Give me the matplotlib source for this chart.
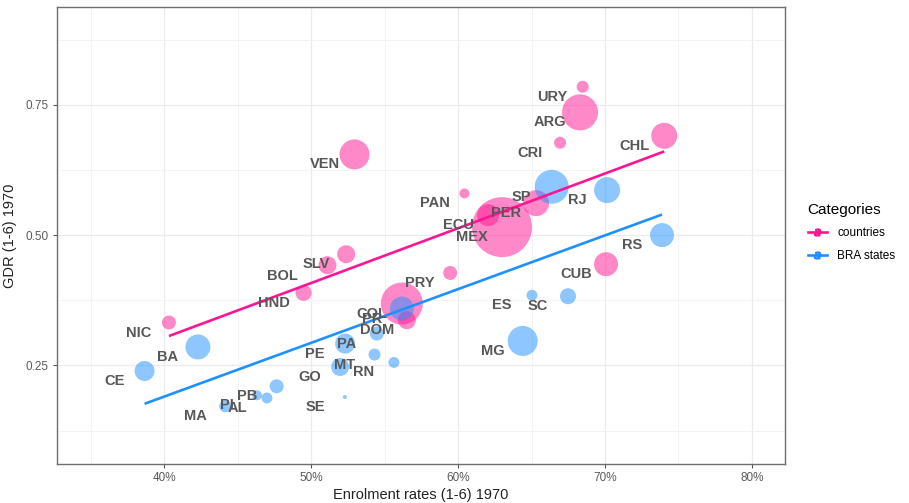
import numpy as np
import matplotlib
matplotlib.use("Agg")
import matplotlib.pyplot as plt
from matplotlib.lines import Line2D
from matplotlib.ticker import FuncFormatter, MultipleLocator

plt.rcParams['font.family'] = ['Liberation Sans', 'DejaVu Sans']

# ---------------- data ----------------
country_names = ["NIC", "HND", "BOL", "SLV", "VEN", "PAN", "ECU", "MEX", "PER",
                 "PRY", "COL", "DOM", "CUB", "CRI", "URY", "ARG", "CHL"]
country_x = [0.4032, 0.4948, 0.5111, 0.5238, 0.5295, 0.6043, 0.6204, 0.6299, 0.6531,
             0.5946, 0.5617, 0.5651, 0.7007, 0.6694, 0.6848, 0.6830, 0.7403]
country_y = [0.3323, 0.3892, 0.4423, 0.4634, 0.6548, 0.5799, 0.5383, 0.5153, 0.5613,
             0.4275, 0.3688, 0.3368, 0.4442, 0.6771, 0.7845, 0.7354, 0.6905]
country_w = [49, 64, 81, 81, 225, 25, 121, 900, 169,
             49, 441, 81, 144, 36, 36, 324, 169]

state_names = ["CE", "BA", "MA", "PI", "AL", "PB", "SE", "GO", "PE", "MT",
               "RN", "PA", "PR", "ES", "SC", "MG", "SP", "RJ", "RS"]
state_x = [0.3866, 0.4229, 0.4415, 0.4631, 0.4699, 0.4765, 0.5229, 0.5197, 0.5231, 0.5431,
           0.5563, 0.5447, 0.5617, 0.6503, 0.6748, 0.6440, 0.6637, 0.7014, 0.7388]
state_y = [0.2394, 0.2855, 0.1717, 0.1928, 0.1876, 0.2101, 0.1894, 0.2471, 0.2920, 0.2709,
           0.2558, 0.3112, 0.3592, 0.3847, 0.3828, 0.2970, 0.5926, 0.5863, 0.5000]
state_w = [100, 156, 36, 25, 30, 49, 4, 81, 100, 36,
           30, 49, 144, 30, 64, 225, 289, 169, 144]

x_ticks = [0.4, 0.5, 0.6, 0.7, 0.8]
y_ticks = [0.25, 0.50, 0.75]

# ---------------- style ----------------
pink = "#FF1493"
blue = "#1E90FF"
label_col = "#575757"
W, H = 909, 503
DPI = 100

fig = plt.figure(figsize=(W / DPI, H / DPI), dpi=DPI)
ax = fig.add_axes([57 / W, 1 - 464 / H, (785 - 57) / W, (464 - 7) / H])

def size_to_s(w):
    # w is squared radius in pixels -> marker area in points^2
    return (2 * np.sqrt(np.asarray(w, float)) * 72 / DPI) ** 2

ax.scatter(country_x, country_y, s=size_to_s(country_w), color=pink, alpha=0.5,
           linewidths=0, zorder=3)
ax.scatter(state_x, state_y, s=size_to_s(state_w), color=blue, alpha=0.5,
           linewidths=0, zorder=3)

# weighted linear fits
for xs, ys, ws, col in [(country_x, country_y, country_w, pink),
                        (state_x, state_y, state_w, blue)]:
    xs = np.asarray(xs); ys = np.asarray(ys); ws = np.asarray(ws, float)
    b, a = np.polyfit(xs, ys, 1, w=np.sqrt(ws))
    xx = np.array([xs.min(), xs.max()])
    ax.plot(xx, a + b * xx, color=col, lw=1.9, zorder=4, solid_capstyle='butt')

# labels
nudge_x, nudge_y = -0.0204, -0.0192
extra = {"BOL": (-0.0100, -0.0020)}
for names, xs, ys in [(country_names, country_x, country_y), (state_names, state_x, state_y)]:
    for n, x, y in zip(names, xs, ys):
        ex, ey = extra.get(n, (0, 0))
        ax.text(x + nudge_x + ex, y + nudge_y + ey, n, ha='center', va='center',
                fontsize=10.5, fontweight='bold', color=label_col, zorder=5)

ax.set_xlim(0.327, 0.8225)
ax.set_ylim(0.061, 0.9375)
ax.set_xticks(x_ticks)
ax.set_yticks(y_ticks)
ax.xaxis.set_minor_locator(MultipleLocator(0.05))
ax.yaxis.set_minor_locator(MultipleLocator(0.125))
ax.xaxis.set_major_formatter(FuncFormatter(lambda v, p: f"{v*100:.0f}%"))
ax.yaxis.set_major_formatter(FuncFormatter(lambda v, p: f"{v:.2f}"))
ax.grid(which='major', color='#EBEBEB', lw=0.9, zorder=0)
ax.grid(which='minor', color='#F3F3F3', lw=0.6, zorder=0)
ax.set_axisbelow(True)
ax.tick_params(which='major', length=3, color='#555555', labelsize=8.5,
               labelcolor='#5A5A5A', pad=3)
ax.tick_params(which='minor', length=0)
for sp in ax.spines.values():
    sp.set_color('#6E6E6E')
    sp.set_linewidth(1.0)

ax.set_xlabel("Enrolment rates (1-6) 1970", fontsize=10.5, color='#222222', labelpad=3)
ax.set_ylabel("GDR (1-6) 1970", fontsize=10.5, color='#222222', labelpad=6)

handles = [Line2D([0], [0], color=pink, lw=1.9, marker='$a$', markersize=5,
                  markerfacecolor=pink, markeredgecolor=pink),
           Line2D([0], [0], color=blue, lw=1.9, marker='$a$', markersize=5,
                  markerfacecolor=blue, markeredgecolor=blue)]
leg = fig.legend(handles, ["countries", "BRA states"], title="Categories",
                 loc='upper left', bbox_to_anchor=(797 / W, 1 - 192 / H),
                 frameon=False, fontsize=8.5, title_fontsize=11,
                 handlelength=1.6, handletextpad=0.9, labelspacing=0.9)
leg._legend_box.align = "left"

fig.savefig("out.png", dpi=DPI)
